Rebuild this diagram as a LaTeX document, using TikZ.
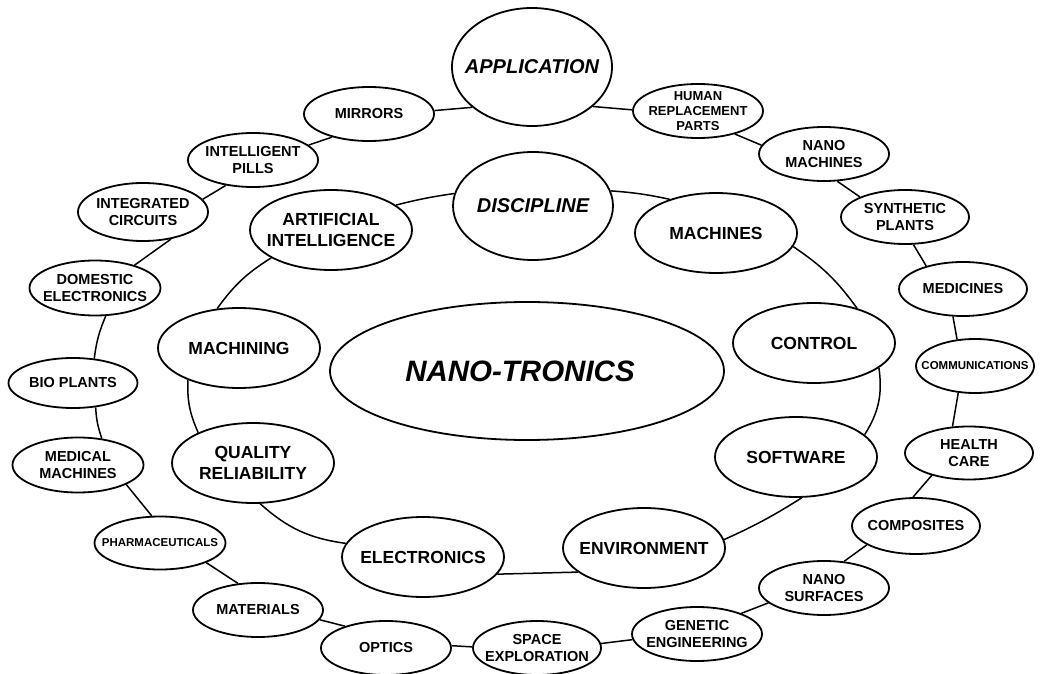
\documentclass[tikz,border=0pt]{standalone}
\usepackage{fontspec}
\setmainfont{Liberation Sans}
\usetikzlibrary{shapes.geometric}
\newcommand\fsm{\fontsize{14.5}{17}\selectfont\bfseries}
\newcommand\fhr{\fontsize{13}{15}\selectfont\bfseries}
\newcommand\fti{\fontsize{11.5}{14}\selectfont\bfseries}
\newcommand\fin{\fontsize{17.5}{21}\selectfont\bfseries}
\newcommand\fhd{\fontsize{20}{24}\selectfont\bfseries\itshape}
\newcommand\fnano{\fontsize{29.5}{34}\selectfont\bfseries\itshape}
\begin{document}
\begin{tikzpicture}[x=1pt,y=1pt,
  bub/.style={draw, ellipse, line width=1.8pt, inner sep=0pt},
  sz/.style 2 args={minimum width=#1pt, minimum height=#2pt},
  small/.style={bub, sz={130}{54}},
  big/.style={bub, sz={162}{80}},
  lk/.style={line width=1.5pt},
  ts/.style={label={[align=center, font=\fsm]center:{#1}}},
  tr/.style={label={[align=center, font=\fhr]center:{#1}}},
  tt/.style={label={[align=center, font=\fti]center:{#1}}},
  ti/.style={label={[align=center, font=\fin]center:{#1}}},
  th/.style={label={[align=center, font=\fhd]center:{#1}}}
]
\useasboundingbox (0,0) rectangle (1047,673);

% centre
\node[bub, sz={394}{138}, label={[font=\fnano, xshift=-7pt]center:{NANO-TRONICS}}] (nano) at (527,302) {};
\node[bub, sz={160}{118}, th={APPLICATION}] (app) at (532,606) {};
\node[bub, sz={160}{108}, th={DISCIPLINE}] (disc) at (533,467) {};

% inner ring
\node[big, ti={MACHINES}] (machines) at (716,440) {};
\node[big, ti={CONTROL}] (control) at (814,330) {};
\node[big, ti={SOFTWARE}] (software) at (796,216) {};
\node[big, ti={ENVIRONMENT}] (env) at (644,125) {};
\node[big, ti={ELECTRONICS}] (elec) at (423,116) {};
\node[big, ti={QUALITY\\RELIABILITY}] (qr) at (253,210) {};
\node[big, ti={MACHINING}] (machining) at (239,325) {};
\node[big, ti={ARTIFICIAL\\INTELLIGENCE}] (ai) at (331,443) {};

% outer ring
\node[small, tr={HUMAN\\REPLACEMENT\\PARTS}] (hrp) at (698,562) {};
\node[small, ts={NANO\\MACHINES}] (nm) at (824,519) {};
\node[small, sz={128}{54}, ts={SYNTHETIC\\PLANTS}] (sp) at (905,456) {};
\node[small, sz={128}{54}, ts={MEDICINES}] (med) at (963,384) {};
\node[small, sz={118}{54}, tt={COMMUNICATIONS}] (comm) at (975,307) {};
\node[small, sz={128}{53}, ts={HEALTH\\CARE}] (hc) at (969,220) {};
\node[small, sz={128}{56}, ts={COMPOSITES}] (comp) at (916,147) {};
\node[small, ts={NANO\\SURFACES}] (ns) at (824,85) {};
\node[small, ts={GENETIC\\ENGINEERING}] (gen) at (697,39) {};
\node[small, sz={128}{54}, ts={SPACE\\EXPLORATION}] (space) at (537,25) {};
\node[small, ts={OPTICS}] (optics) at (386,25) {};
\node[small, ts={MATERIALS}] (mat) at (258,63) {};
\node[small, sz={131}{53}, tt={PHARMACEUTICALS}] (pharm) at (160,130) {};
\node[small, sz={131}{55}, ts={MEDICAL\\MACHINES}] (medmach) at (78,208) {};
\node[small, sz={129}{50}, ts={BIO PLANTS}] (bio) at (73,290) {};
\node[small, sz={131}{55}, ts={DOMESTIC\\ELECTRONICS}] (de) at (95,385) {};
\node[small, sz={130}{58}, ts={INTEGRATED\\CIRCUITS}] (ic) at (143,461) {};
\node[small, ts={INTELLIGENT\\PILLS}] (ip) at (253,513) {};
\node[small, ts={MIRRORS}] (mirrors) at (369,559) {};

% outer connectors
\draw[lk] (app.-33) -- (hrp.179);
\draw[lk] (hrp.-32) -- (nm.172);
\draw[lk] (nm.-64) -- (sp.156);
\draw[lk] (sp.-73) -- (med.148);
\draw[lk] (med.-110) -- (comm.124);
\draw[lk] (comm.-122) -- (hc.122);
\draw[lk] (hc.-149) -- (comp.96);
\draw[lk] (comp.-159) -- (ns.53);
\draw[lk] (ns.-165) -- (gen.25);
\draw[lk] (gen.-175) -- (space.4);
\draw[lk] (space.179) -- (optics.2);
\draw[lk] (optics.152) -- (mat.-9);
\draw[lk] (mat.127) -- (pharm.-23);
\draw[lk] (pharm.107) -- (medmach.-22);
\draw[lk] (medmach.48) to[bend left=8] (bio.-47);
\draw[lk] (bio.49) to[bend left=8] (de.-69);
\draw[lk] (de.30) -- (ic.-44);
\draw[lk] (ic.12) -- (ip.-137);
\draw[lk] (ip.15) -- (mirrors.-148);
\draw[lk] (mirrors.3) -- (app.-146);

% inner connectors
\draw[lk] (disc.11) to[bend left=4] (machines.144);
\draw[lk] (machines.-10) to[bend left=10] (control.39);
\draw[lk] (control.-21) to[bend left=20] (software.18);
\draw[lk] (software.-82) to[bend left=4] (env.6);
\draw[lk] (env.-160) -- (elec.-13);
\draw[lk] (elec.170) to[bend left=17] (qr.-80);
\draw[lk] (qr.151) to[bend left=13] (machining.-148);
\draw[lk] (machining.119) to[bend left=11] (ai.-155);
\draw[lk] (ai.21) to[bend left=3] (disc.171);
\end{tikzpicture}
\end{document}
